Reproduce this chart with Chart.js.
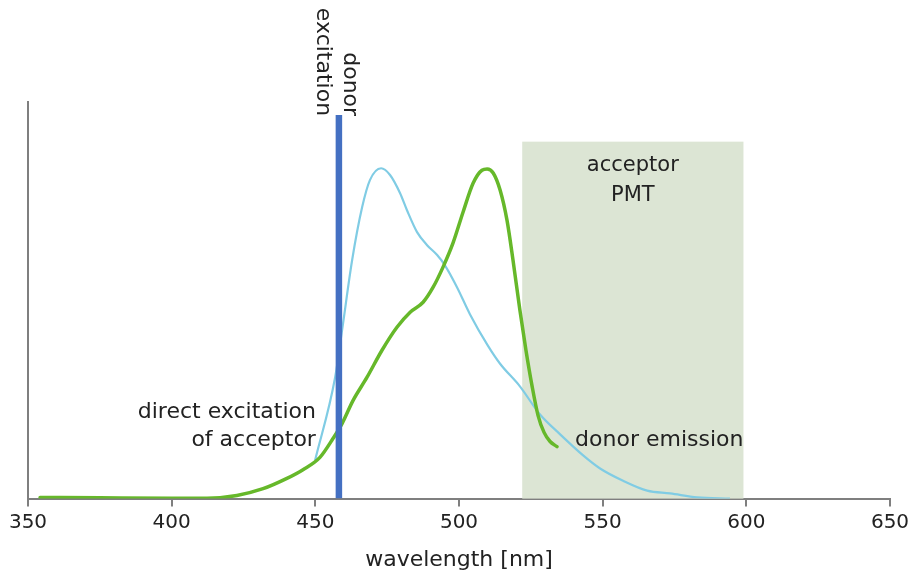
<!DOCTYPE html>
<html>
<head>
<meta charset="utf-8">
<script src="https://cdn.jsdelivr.net/npm/chart.js@4"></script>
<style>
html,body{margin:0;padding:0;background:#fff;}
#wrap{width:909px;height:577px;}
</style>
</head>
<body>
<div id="wrap"><canvas id="c" width="909" height="577"></canvas></div>
<script>
// x ticks
const xTicks = [350, 400, 450, 500, 550, 600, 650];
// donor emission (cyan)
const donorWl  = [449.9, 456.9, 459.3, 462.8, 466.3, 469.0, 472.9, 476.0, 479.5, 481.9, 485.4, 488.9, 492.4, 495.1, 499.3, 503.8, 510.1, 514.3, 521.2, 528.2, 535.2, 543.2, 549.1, 557.1, 565.5, 573.5, 582.9, 594.3];
const donorVal = [0.096, 0.306, 0.424, 0.601, 0.735, 0.803, 0.833, 0.816, 0.770, 0.727, 0.672, 0.639, 0.614, 0.588, 0.533, 0.465, 0.385, 0.340, 0.283, 0.212, 0.162, 0.109, 0.076, 0.045, 0.020, 0.013, 0.003, 0.0];
// acceptor emission (green)
const acceptorWl  = [354.2, 375, 400, 412.3, 422.7, 431.8, 440.1, 445.7, 451.6, 456.2, 459.3, 463.1, 468.0, 473.2, 478.4, 483.0, 487.5, 491.0, 494.4, 497.9, 501.4, 504.9, 508.0, 509.8, 511.9, 514.3, 516.7, 518.8, 521.2, 523.3, 525.4, 527.5, 529.6, 531.7, 534.1];
const acceptorVal = [0.003, 0.002, 0.001, 0.001, 0.008, 0.025, 0.051, 0.073, 0.104, 0.152, 0.189, 0.247, 0.306, 0.374, 0.432, 0.470, 0.495, 0.533, 0.583, 0.644, 0.722, 0.795, 0.828, 0.831, 0.821, 0.778, 0.702, 0.601, 0.475, 0.374, 0.285, 0.210, 0.167, 0.144, 0.131];
// donor excitation laser line
const excitationWl = [458.2, 458.2];
const excitationVal = [0, 0.967];
// acceptor PMT window
const pmtRange = [522, 599];
const pmtHeight = 0.90;

const FONT = "'DejaVu Sans', Verdana, sans-serif";
const TXT = '#222222';

const toXY = (xs, ys) => xs.map((x, i) => ({x: x, y: ys[i]}));

const overlay = {
  id: 'overlay',
  beforeDatasetsDraw(chart) {
    const {ctx, scales: {x, y}} = chart;
    ctx.save();
    ctx.fillStyle = '#DCE5D4';
    const x0 = x.getPixelForValue(pmtRange[0]), x1 = x.getPixelForValue(pmtRange[1]);
    const y0 = y.getPixelForValue(pmtHeight), y1 = y.getPixelForValue(0);
    ctx.fillRect(x0, y0, x1 - x0, y1 - y0);
    ctx.restore();
  },
  afterDraw(chart) {
    const {ctx, scales: {x, y}} = chart;
    ctx.save();
    ctx.fillStyle = TXT;
    ctx.textBaseline = 'middle';
    // acceptor PMT
    ctx.font = "21px " + FONT;
    ctx.textAlign = 'center';
    const cx = x.getPixelForValue((pmtRange[0] + pmtRange[1]) / 2);
    ctx.fillText('acceptor', cx, y.getPixelForValue(0.84));
    ctx.fillText('PMT', cx, y.getPixelForValue(0.765));
    ctx.font = "22px " + FONT;
    // donor emission
    ctx.textAlign = 'left';
    ctx.fillText('donor emission', x.getPixelForValue(540.4), y.getPixelForValue(0.146));
    // direct excitation of acceptor
    ctx.textAlign = 'right';
    ctx.fillText('direct excitation', x.getPixelForValue(450.2), y.getPixelForValue(0.217));
    ctx.fillText('of acceptor', x.getPixelForValue(450.2), y.getPixelForValue(0.146));
    // rotated donor excitation
    const bx = x.getPixelForValue(excitationWl[0]);
    const by = y.getPixelForValue(excitationVal[1]) + 1;
    ctx.translate(bx, by);
    ctx.rotate(Math.PI / 2);
    ctx.textAlign = 'right';
    ctx.fillText('donor', 0, -11);
    ctx.fillText('excitation', 0, 16.5);
    ctx.restore();
  }
};

new Chart(document.getElementById('c'), {
  type: 'scatter',
  data: {
    datasets: [
      {
        label: 'donor excitation',
        data: toXY(excitationWl, excitationVal),
        showLine: true, borderColor: '#4470C2', borderWidth: 6.5,
        pointRadius: 0, borderCapStyle: 'butt'
      },
      {
        label: 'acceptor emission',
        data: toXY(acceptorWl, acceptorVal),
        showLine: true, borderColor: '#66B82A', borderWidth: 3.5,
        pointRadius: 0, cubicInterpolationMode: 'monotone', borderCapStyle: 'round'
      },
      {
        label: 'donor emission',
        data: toXY(donorWl, donorVal),
        showLine: true, borderColor: '#80CCE4', borderWidth: 2.2,
        pointRadius: 0, cubicInterpolationMode: 'monotone'
      }
    ]
  },
  options: {
    responsive: false,
    animation: false,
    layout: { padding: { top: 102, right: 0, left: 0, bottom: 0 } },
    plugins: { legend: { display: false }, tooltip: { enabled: false } },
    scales: {
      x: {
        type: 'linear', min: 350, max: 650,
        afterBuildTicks(s) { s.ticks = xTicks.map(v => ({value: v})); },
        afterFit(s) { s.paddingRight = 19; s.paddingLeft = 0; },
        grid: { drawOnChartArea: false, drawTicks: true, tickLength: 8, color: '#7f7f7f', lineWidth: 2 },
        border: { display: true, color: '#7f7f7f', width: 2 },
        ticks: { color: TXT, font: { family: FONT, size: 20 }, padding: 4, maxRotation: 0 },
        title: { display: true, text: 'wavelength [nm]', color: TXT, font: { family: FONT, size: 22 }, padding: { top: 8, bottom: 4 } }
      },
      y: {
        type: 'linear', min: 0, max: 1,
        afterFit(s) { s.width = 28; },
        grid: { display: false, drawTicks: false },
        border: { display: true, color: '#7f7f7f', width: 2 },
        ticks: { display: false }
      }
    }
  },
  plugins: [overlay]
});
</script>
</body>
</html>
